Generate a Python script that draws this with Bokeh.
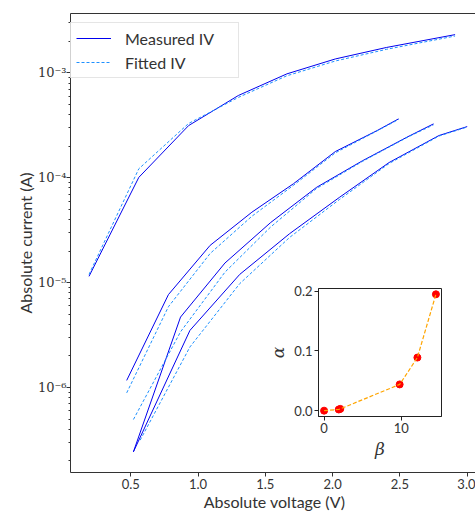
import numpy as np
from bokeh.plotting import figure
from bokeh.models import (FixedTicker, LinearAxis, Range1d, Legend, LegendItem,
                          PrintfTickFormatter)
from bokeh.layouts import column
from bokeh.embed import file_html
from bokeh.resources import INLINE

# ---------------- data ----------------
c1_v = [0.19, 0.56, 0.93, 1.30, 1.66, 2.02, 2.40, 2.91]
c1_meas = [1.15e-5, 1.01e-4, 3.15e-4, 6.1e-4, 9.8e-4, 1.36e-3, 1.75e-3, 2.32e-3]
c1_fit = [1.2e-5, 1.22e-4, 3.3e-4, 5.85e-4, 9.4e-4, 1.30e-3, 1.68e-3, 2.25e-3]

c2_v = [0.47, 0.78, 1.09, 1.40, 1.71, 2.02, 2.33, 2.49]
c2_meas = [1.17e-6, 7.7e-6, 2.27e-5, 4.7e-5, 8.8e-5, 1.78e-4, 2.82e-4, 3.65e-4]
c2_fit = [8.9e-7, 5.9e-6, 1.9e-5, 4.3e-5, 8.5e-5, 1.73e-4, 2.8e-4, 3.6e-4]

c3_v = [0.52, 0.87, 1.20, 1.54, 1.88, 2.22, 2.56, 2.75]
c3_meas = [2.44e-7, 4.7e-6, 1.54e-5, 3.75e-5, 8.1e-5, 1.45e-4, 2.47e-4, 3.27e-4]
c3_fit = [4.96e-7, 3.4e-6, 1.26e-5, 3.4e-5, 7.9e-5, 1.43e-4, 2.45e-4, 3.2e-4]

c4_v = [0.52, 0.94, 1.31, 1.68, 2.05, 2.42, 2.79, 3.00]
c4_meas = [2.44e-7, 3.51e-6, 1.2e-5, 2.93e-5, 6.5e-5, 1.4e-4, 2.53e-4, 3.08e-4]
c4_fit_v = [0.57, 0.94, 1.31, 1.68, 2.05, 2.42, 2.79, 3.00]
c4_fit = [3.15e-7, 2.44e-6, 9.8e-6, 2.7e-5, 6.2e-5, 1.37e-4, 2.5e-4, 3.05e-4]

beta = [0.0, 1.9, 2.1, 9.8, 12.1, 14.5]
alpha = [0.0, 0.002, 0.003, 0.044, 0.089, 0.195]

x_ticks = [0.5, 1.0, 1.5, 2.0, 2.5, 3.0]
y_ticks = [1e-6, 1e-5, 1e-4, 1e-3]
y_tick_labels = ["10⁻⁶", "10⁻⁵", "10⁻⁴", "10⁻³"]
inset_x_ticks = [0, 10]
inset_y_ticks = [0.0, 0.1, 0.2]

MEAS_COLOR = "#0000ee"
FIT_COLOR = "#1e90ff"
TXT = "#333333"
SANS = "Lato"
SERIF = "DejaVu Serif"

# ---------------- main figure ----------------
p = figure(frame_width=408, frame_height=459,
           x_range=Range1d(0.0524, 3.084),
           y_range=Range1d(10 ** -6.81, 10 ** -2.433),
           y_axis_type="log", output_backend="svg", toolbar_location=None,
           min_border_left=67, min_border_right=0, min_border_top=13,
           min_border_bottom=41)
p.outline_line_color = None
p.grid.visible = False
p.background_fill_color = "white"
p.border_fill_color = "white"

curves = [(c1_v, c1_meas, c1_v, c1_fit),
          (c2_v, c2_meas, c2_v, c2_fit),
          (c3_v, c3_meas, c3_v, c3_fit),
          (c4_v, c4_meas, c4_fit_v, c4_fit)]
meas_r, fit_r = [], []
for v, im, vf, ifit in curves:
    meas_r.append(p.line(v, im, line_color=MEAS_COLOR, line_width=1))
    fit_r.append(p.line(vf, ifit, line_color=FIT_COLOR, line_width=1,
                        line_dash="3 2"))

xa = p.xaxis[0]
xa.ticker = FixedTicker(ticks=x_ticks)
xa.formatter = PrintfTickFormatter(format="%.1f")
xa.axis_label = "Absolute voltage (V)"

ya = p.yaxis[0]
ya.ticker = FixedTicker(ticks=y_ticks,
                        minor_ticks=[m * 10.0 ** k for k in range(-7, -2) for m in range(2, 10)])
ya.major_label_overrides = dict(zip(y_ticks, y_tick_labels))
ya.axis_label = "Absolute current (A)"

for ax in (xa, ya):
    ax.axis_line_color = TXT
    ax.major_tick_line_color = TXT
    ax.minor_tick_line_color = TXT
    ax.major_tick_in = 0
    ax.major_tick_out = 4
    ax.minor_tick_in = 0
    ax.minor_tick_out = 2
    ax.major_label_text_color = TXT
    ax.axis_label_text_color = TXT
    ax.axis_label_text_font = SANS
    ax.axis_label_text_font_style = "normal"
    ax.axis_label_text_font_size = "16px"

xa.major_label_text_font = SANS
xa.major_label_text_font_size = "13px"
xa.major_label_standoff = 2
xa.axis_label_standoff = 0
xa.minor_tick_out = 0
ya.major_label_text_font = SERIF
ya.major_label_text_font_size = "13px"
ya.major_label_standoff = 0
ya.axis_label_standoff = 0

top = LinearAxis(ticker=FixedTicker(ticks=[]), major_label_text_font_size="0px",
                 axis_line_color=TXT, major_tick_in=0, major_tick_out=0,
                 minor_tick_in=0, minor_tick_out=0, major_label_standoff=0)
p.add_layout(top, "above")

legend = Legend(items=[LegendItem(label="Measured IV", renderers=[meas_r[0]]),
                       LegendItem(label="Fitted IV", renderers=[fit_r[0]])],
                location="top_left", margin=9, padding=5, spacing=4,
                glyph_width=35, glyph_height=20, label_height=20,
                label_width=108, label_standoff=14,
                label_text_font=SANS, label_text_font_size="16px",
                label_text_color=TXT, border_line_color="#cccccc",
                background_fill_alpha=0.8)
p.add_layout(legend)

# ---------------- inset ----------------
ins = figure(frame_width=123, frame_height=128,
             x_range=Range1d(-0.725, 15.225), y_range=Range1d(-0.00975, 0.2047),
             output_backend="svg", toolbar_location=None,
             min_border_left=70, min_border_right=8, min_border_top=8,
             min_border_bottom=45)
ins.styles = {"position": "absolute", "left": "248px", "top": "280px"}
ins.grid.visible = False
ins.border_fill_alpha = 0
ins.outline_line_color = "#222222"
ins.scatter(beta, alpha, size=7, fill_color="red", line_color="red")
ins.line(beta, alpha, line_color="orange", line_dash="4 2", line_width=1.2)

ix = ins.xaxis[0]
ix.ticker = FixedTicker(ticks=inset_x_ticks)
ix.axis_label = "β"
iy = ins.yaxis[0]
iy.ticker = FixedTicker(ticks=inset_y_ticks)
iy.formatter = PrintfTickFormatter(format="%.1f")
iy.axis_label = "α"
for ax in (ix, iy):
    ax.axis_line_color = "#222222"
    ax.major_tick_line_color = "#222222"
    ax.major_tick_in = 0
    ax.major_tick_out = 4
    ax.minor_tick_in = 0
    ax.minor_tick_out = 0
    ax.major_label_text_font = SANS
    ax.major_label_text_font_size = "13px"
    ax.major_label_text_color = TXT
    ax.major_label_standoff = 2
    ax.axis_label_text_font = SERIF
    ax.axis_label_text_font_style = "italic"
    ax.axis_label_text_font_size = "17px"
    ax.axis_label_text_color = TXT
    ax.axis_label_standoff = 3

layout = column(p, ins)
open("out.html", "w").write(file_html(layout, INLINE))
